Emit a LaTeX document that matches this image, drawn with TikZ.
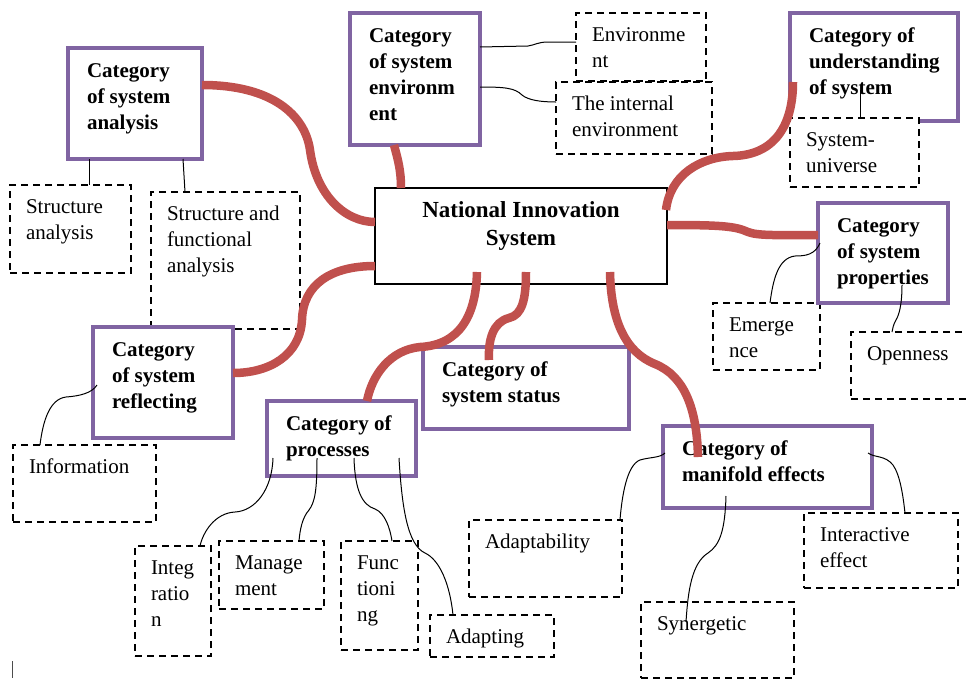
\documentclass[tikz,border=0pt]{standalone}
\usepackage{fontspec}
\setmainfont{Liberation Serif}
\usetikzlibrary{calc}

\newcommand{\cattxt}[3]{\hspace*{19pt}\parbox[c][#2pt][t]{\dimexpr#1pt-19pt\relax}{\raggedright\rule{0pt}{29pt}#3}}
\newcommand{\subtxt}[3]{\hspace*{16pt}\parbox[c][#2pt][t]{\dimexpr#1pt-16pt\relax}{\raggedright\rule{0pt}{28pt}#3}}

\begin{document}
\begin{tikzpicture}[x=1pt,y=-1pt,
  catbox/.style={draw=catpurple, line width=4pt, fill=white, inner sep=0, outer sep=0, anchor=north west,
    font=\fontsize{21pt}{26pt}\selectfont\bfseries},
  subbox/.style={draw=black, line width=1.4pt, dash pattern=on 7pt off 5pt, fill=white, inner sep=0, outer sep=0,
    anchor=north west, font=\fontsize{21pt}{26pt}\selectfont},
  nisbox/.style={draw=black, line width=1.5pt, fill=white, inner sep=0, outer sep=0, anchor=north west,
    font=\fontsize{23pt}{28pt}\selectfont\bfseries},
  branch/.style={draw=catred, line width=8.5pt, line cap=butt},
  link/.style={draw=black, line width=1pt}]
\useasboundingbox (0,0) rectangle (967,678);
\definecolor{catpurple}{RGB}{128, 100, 162}
\definecolor{catred}{RGB}{192, 80, 77}
\node[subbox] (sa) at (10,185) {\subtxt{121}{88}{Structure\\analysis}};
\node[subbox] (sfa) at (151,192) {\subtxt{149}{137}{Structure and\\functional\\analysis}};
\node[subbox] (envo) at (576,13) {\subtxt{130}{68}{Environme\\nt}};
\node[subbox] (intl) at (556,82) {\subtxt{156}{72}{The internal\\environment}};
\node[subbox] (emg) at (713,303) {\subtxt{107}{67}{Emerge\\nce}};
\node[subbox] (opn) at (851,332) {\subtxt{130}{67}{Openness}};
\node[subbox] (inf) at (13,445) {\subtxt{143}{77}{Information}};
\node[subbox] (itg) at (135,546) {\subtxt{76}{110}{Integ\\ratio\\n}};
\node[subbox] (mgm) at (219,541) {\subtxt{105}{68}{Manage\\ment}};
\node[subbox] (fct) at (341,541) {\subtxt{77}{109}{Func\\tioni\\ng}};
\node[subbox] (adp) at (430,615) {\subtxt{124}{42}{Adapting}};
\node[subbox] (adb) at (469,520) {\subtxt{153}{77}{Adaptability}};
\node[subbox] (syn) at (641,602) {\subtxt{153}{76}{Synergetic}};
\node[subbox] (iae) at (804,513) {\subtxt{154}{75}{Interactive\\effect}};
\node[catbox] (ana) at (68,48) {\cattxt{134}{111}{Category\\of system\\analysis}};
\node[catbox] (env) at (350,13) {\cattxt{130}{132}{Category\\of system\\environm\\ent}};
\node[catbox] (und) at (790,13) {\cattxt{168}{108}{Category of\\understanding\\of system}};
\node[catbox] (pro) at (818,203) {\cattxt{130}{100}{Category\\of system\\properties}};
\node[catbox] (ref) at (93,327) {\cattxt{140}{111}{Category\\of system\\reflecting}};
\node[catbox] (prc) at (267,401) {\cattxt{149}{75}{Category of\\processes}};
\node[catbox] (sta) at (423,347) {\cattxt{206}{82}{Category of\\system status}};
\node[catbox] (man) at (663,426) {\cattxt{209}{82}{Category of\\manifold effects}};
\node[subbox] (suv) at (790,118) {\subtxt{129}{69}{System-\\universe}};
\node[nisbox] (nis) at (375,188) {\parbox[c][96pt][t]{292pt}{\centering\rule{0pt}{29pt}National Innovation\\System}};
\draw[branch] ($(ana.north east)+(0,37)$) .. controls (272,85) and (305,115) .. (310,150) .. controls (316,195) and (345,222) .. ($(nis.north west)+(0,34)$);
\draw[branch] ($(env.south west)+(44,0)$) .. controls (398,160) and (401,170) .. ($(nis.north west)+(26,0)$);
\draw[branch] ($(nis.south west)+(0,-18)$) .. controls (330,266) and (303,285) .. (302,320) .. controls (300,355) and (270,373) .. ($(ref.north east)+(0,46)$);
\draw[branch] ($(nis.south west)+(102,-12)$) .. controls (476,315) and (460,345) .. (420,347) .. controls (390,350) and (372,375) .. ($(prc.north west)+(100,0)$);
\draw[branch] ($(nis.south west)+(151,-12)$) .. controls (526,300) and (522,315) .. (509,318) .. controls (493,322) and (488,340) .. ($(sta.north west)+(66,13)$);
\draw[branch] ($(nis.south west)+(235,-12)$) .. controls (611,320) and (625,352) .. (655,364) .. controls (685,376) and (697,410) .. ($(man.north west)+(35,31)$);
\draw[branch] ($(nis.north east)+(-1,22)$) .. controls (670,175) and (700,157) .. (733,156) .. controls (775,155) and (793,125) .. ($(und.north west)+(3,69)$);
\draw[branch] ($(nis.north east)+(0,37)$) .. controls (720,225) and (735,226) .. (748,232) .. controls (758,236) and (780,235) .. ($(pro.north west)+(0,32)$);
\draw[link] ($(ana.south west)+(21,0)$) -- ($(sa.north west)+(79,0)$);
\draw[link] ($(ana.south west)+(115,0)$) -- ($(sfa.north west)+(34,0)$);
\draw[link] ($(env.north east)+(0,34)$) -- (528,46) .. controls (535,45) and (538,42) .. (548,42) -- ($(envo.north west)+(0,29)$);
\draw[link] ($(env.north east)+(0,74)$) .. controls (505,87) and (515,88) .. (522,95) .. controls (528,100) and (540,102) .. ($(intl.north west)+(0,20)$);
\draw[link] ($(und.north west)+(70,77)$) -- ($(suv.north west)+(70,0)$);
\draw[link] ($(pro.north west)+(2,40)$) .. controls (815,255) and (805,256) .. (795,256) .. controls (778,258) and (773,280) .. ($(emg.north west)+(57,0)$);
\draw[link] ($(pro.north west)+(84,82)$) .. controls (902,305) and (899,315) .. (896,320) .. controls (893,325) and (893,328) .. ($(opn.north west)+(41,0)$);
\draw[link] ($(ref.north west)+(4,58)$) .. controls (92,393) and (80,396) .. (66,397) .. controls (50,399) and (43,420) .. ($(inf.north west)+(27,0)$);
\draw[link] ($(prc.north west)+(6,57)$) .. controls (272,490) and (255,511) .. (235,512) .. controls (215,513) and (203,532) .. ($(itg.north west)+(65,0)$);
\draw[link] ($(prc.north west)+(50,57)$) .. controls (317,490) and (315,502) .. (309,510) .. controls (302,518) and (300,530) .. ($(mgm.north west)+(80,0)$);
\draw[link] ($(prc.north west)+(87,57)$) .. controls (355,490) and (362,505) .. (375,509) .. controls (385,513) and (390,528) .. ($(fct.north west)+(51,0)$);
\draw[link] ($(prc.north west)+(132,57)$) .. controls (402,510) and (408,545) .. (425,553) .. controls (440,560) and (450,585) .. ($(adp.north west)+(23,0)$);
\draw[link] ($(man.north west)+(2,27)$) .. controls (660,458) and (650,457) .. (640,460) .. controls (627,465) and (622,495) .. ($(adb.north west)+(151,0)$);
\draw[link] ($(man.north west)+(63,70)$) .. controls (725,530) and (720,545) .. (708,553) .. controls (692,563) and (688,590) .. ($(syn.north west)+(45,20)$);
\draw[link] ($(man.north east)+(-4,27)$) .. controls (875,458) and (885,455) .. (893,465) .. controls (900,475) and (903,495) .. ($(iae.north west)+(101,0)$);
\draw[line width=1pt, black!70] (12,661) -- (12,678);
\end{tikzpicture}
\end{document}
